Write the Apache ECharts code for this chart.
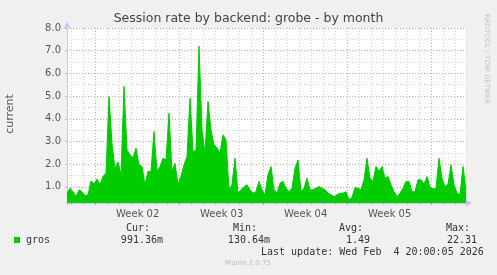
<!DOCTYPE html>
<html><head><meta charset="utf-8">
<script src="https://cdn.jsdelivr.net/npm/echarts@6/dist/echarts.min.js"></script>
<style>html,body{margin:0;padding:0;background:#f0f0f0;}#c{width:497px;height:275px;}</style>
</head><body><div id="c"></div>
<script>
// Time in days relative to Monday of Week 02 (Jan 5 2026 00:00); one sample every 6 hours
const startDay = -2.39;
const stepDay = 0.25;
const rate = [
0.72,0.94,0.79,0.57,0.87,0.79,0.62,0.65,1.26,1.12,
1.35,1.09,1.46,1.60,4.98,2.90,1.80,2.10,1.53,5.43,
2.63,2.41,2.26,2.71,1.97,1.90,1.09,1.68,1.68,3.44,
1.68,1.90,2.26,2.19,4.25,1.68,2.04,1.10,1.46,1.97,
2.34,4.91,2.56,2.60,7.20,3.50,2.49,4.76,3.51,2.85,
2.71,2.49,3.29,3.07,0.87,1.09,2.26,0.72,0.87,1.01,
1.09,0.87,0.72,0.79,1.24,0.87,0.65,1.53,1.90,0.87,
0.72,1.16,1.24,0.94,0.79,0.94,1.82,2.19,0.79,0.94,
1.38,0.87,0.87,0.94,1.01,0.94,0.87,0.72,0.65,0.57,
0.65,0.72,0.72,0.79,0.43,0.53,0.97,0.94,0.87,1.31,
2.26,1.38,1.24,1.90,1.68,1.90,1.38,1.46,1.09,0.79,
0.57,0.72,0.94,1.24,1.24,0.79,0.79,1.31,1.31,1.12,
1.46,1.01,0.91,0.94,2.26,1.38,1.01,1.12,1.97,1.09,
0.72,0.65,1.90,0.87
];
const weekStarts = [0, 7, 14, 21, 28];
const weekLabelDays = [3.5, 10.5, 17.5, 24.5];
const weekNames = ['Week 02', 'Week 03', 'Week 04', 'Week 05'];
const yMin = 0.29, yMax = 8;
const statHeaders = ['Cur:', 'Min:', 'Avg:', 'Max:'];
const statValues = ['991.36m', '130.64m', '1.49', '22.31'];
const seriesName = 'gros';

const xMax = startDay + stepDay * (rate.length - 1);
const points = rate.map((v, i) => [startDay + stepDay * i, v]);

const chart = echarts.init(document.getElementById('c'), null, {renderer: 'canvas'});
const mono = 'DejaVu Sans Mono';
const sans = 'DejaVu Sans';
const axisCol = '#c8c8f4';
const majorCol = '#e8a0a0';
const minorCol = '#d4d4d4';

const statX = [[150, 163], [257, 270], [363, 370], [470, 477]];
const graphics = [
  {type: 'text', left: 'center', top: 12, style: {text: 'Session rate by backend: grobe - by month', font: '12.5px ' + sans, fill: '#444'}},
  {type: 'text', x: 10, y: 114, rotation: Math.PI / 2, style: {text: 'current', font: '11px ' + sans, fill: '#555', align: 'center', verticalAlign: 'middle'}},
  {type: 'text', x: 487, y: 14, rotation: -Math.PI / 2, style: {text: 'RRDTOOL / TOBI OETIKER', font: '7px ' + sans, fill: '#c4c4c4', align: 'left', verticalAlign: 'middle'}},
  {type: 'rect', shape: {x: 14, y: 237, width: 6, height: 6}, style: {fill: '#00cc00'}},
  {type: 'text', x: 26, y: 240, style: {text: seriesName, font: '10px ' + mono, fill: '#333', verticalAlign: 'middle'}},
  {type: 'text', x: 261, y: 252, style: {text: 'Last update: Wed Feb  4 20:00:05 2026', font: '10px ' + mono, fill: '#333', verticalAlign: 'middle'}},
  {type: 'text', x: 248, y: 263.5, style: {text: 'Munin 2.0.75', font: '7px ' + sans, fill: '#bbb', align: 'center', verticalAlign: 'middle'}}
];
statHeaders.forEach((h, i) => {
  graphics.push({type: 'text', x: statX[i][0], y: 228, style: {text: h, font: '10px ' + mono, fill: '#333', align: 'right', verticalAlign: 'middle'}});
  graphics.push({type: 'text', x: statX[i][1], y: 240, style: {text: statValues[i], font: '10px ' + mono, fill: '#333', align: 'right', verticalAlign: 'middle'}});
});

chart.setOption({
  animation: false,
  backgroundColor: '#f0f0f0',
  grid: {left: 67, right: 31, top: 28, bottom: 72, show: true, backgroundColor: '#ffffff', borderWidth: 0},
  xAxis: [
    {type: 'value', min: startDay, max: xMax, splitNumber: 33,
     axisLine: {show: false}, axisLabel: {show: false},
     axisTick: {show: true, length: 2, lineStyle: {color: '#bbbbbb'}},
     splitLine: {show: true, lineStyle: {color: minorCol, type: [1, 2], width: 1}}},
    {type: 'value', min: startDay, max: xMax, position: 'bottom',
     axisLine: {show: true, onZero: false, lineStyle: {color: axisCol}, symbol: ['none', 'arrow'], symbolSize: [6, 7], symbolOffset: [0, 6]},
     axisTick: {show: true, length: 2, customValues: weekStarts, lineStyle: {color: '#e08080'}},
     axisLabel: {show: true, customValues: weekLabelDays, margin: 6, color: '#555', fontFamily: sans, fontSize: 10,
       formatter: v => weekNames[weekLabelDays.indexOf(v)] || ''},
     splitLine: {show: false}}
  ],
  yAxis: [
    {type: 'value', min: yMin, max: yMax, splitNumber: 16,
     axisLine: {show: false}, axisLabel: {show: false}, axisTick: {show: false},
     splitLine: {show: true, lineStyle: {color: minorCol, type: [1, 2], width: 1}}},
    {type: 'value', min: yMin, max: yMax, splitNumber: 8, position: 'left',
     axisLine: {show: true, onZero: false, lineStyle: {color: axisCol}, symbol: ['none', 'arrow'], symbolSize: [6, 7], symbolOffset: [0, 6]},
     axisTick: {show: true, length: 2, lineStyle: {color: '#bbbbbb'}},
     axisLabel: {show: true, showMinLabel: false, margin: 6, color: '#555', fontFamily: sans, fontSize: 10, formatter: v => v.toFixed(1)},
     splitLine: {show: true, lineStyle: {color: majorCol, type: [1, 2], width: 1}}}
  ],
  series: [
    {name: 'weekgrid', type: 'line', xAxisIndex: 0, yAxisIndex: 0, data: points,
     showSymbol: false, symbol: 'none', lineStyle: {opacity: 0}, silent: true, z: 1,
     markLine: {silent: true, symbol: ['none', 'none'], label: {show: false},
       lineStyle: {color: majorCol, type: [1, 2], width: 1},
       data: weekStarts.map(d => ({xAxis: d}))}},
    {name: seriesName, type: 'line', xAxisIndex: 0, yAxisIndex: 0,
     data: points, showSymbol: false, symbol: 'none', smooth: false,
     lineStyle: {color: '#00cc00', width: 1}, areaStyle: {color: '#00cc00', opacity: 1},
     z: 5}
  ],
  graphic: graphics
});
</script></body></html>
